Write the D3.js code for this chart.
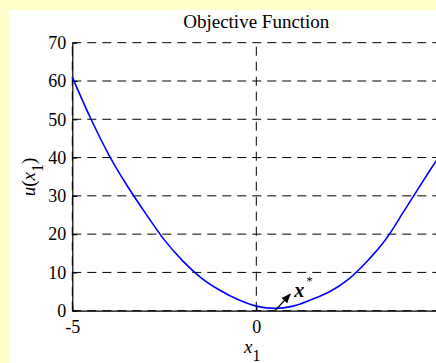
<!DOCTYPE html>
<html>
<head>
<meta charset="utf-8">
<script src="https://cdn.jsdelivr.net/npm/d3@7"></script>
<style>
  html, body { margin: 0; padding: 0; background: #FFFFCC; }
  svg { display: block; }
  text { font-family: "Liberation Serif", "Times New Roman", serif; fill: #000; }
</style>
</head>
<body>
<svg id="chart" width="436" height="363"></svg>
<script>
// Sampled objective u(x1)
const xValues = [-5, -4.5, -4, -3.5, -3, -2.5, -2, -1.5, -1, -0.5, 0, 0.5, 1, 1.5, 2, 2.5, 3, 3.5, 4, 4.5, 5];
const uValues = [61, 50.2, 40.6, 32.5, 25.3, 18.5, 13.0, 8.6, 5.4, 2.9, 1.2, 0.6, 1.2, 2.9, 5.0, 8.2, 12.8, 18.4, 25.8, 33.4, 40.8];

const yTicks = [0, 10, 20, 30, 40, 50, 60, 70];
const xTicks = [-5, 0, 5];

// Minimiser marker: arrow tail and head in data units
const arrowFrom = [0.51, 0];
const arrowTo = [0.92, 4.3];

const W = 436, H = 363;
const svg = d3.select("#chart");

svg.append("rect").attr("width", W).attr("height", H).attr("fill", "#FFFFCC");
svg.append("rect").attr("x", 9).attr("y", 10).attr("width", W - 9).attr("height", H - 10).attr("fill", "#fff");

const x = d3.scaleLinear().domain([-5, 5]).range([72.3, 440.3]);
const y = d3.scaleLinear().domain([0, 70]).range([310.7, 42.7]);

const plot = svg.append("g");

// dashed grid
plot.append("g").selectAll("line").data(yTicks).join("line")
  .attr("x1", x(-5)).attr("x2", x(5))
  .attr("y1", d => y(d)).attr("y2", d => y(d))
  .attr("stroke", "#000").attr("stroke-width", 1)
  .attr("stroke-dasharray", "9,6");
plot.append("g").selectAll("line").data(xTicks).join("line")
  .attr("x1", d => x(d)).attr("x2", d => x(d))
  .attr("y1", y(0)).attr("y2", y(70))
  .attr("stroke", "#000").attr("stroke-width", 1)
  .attr("stroke-dasharray", "9,6");

// axes with inward ticks
const yAxis = d3.axisLeft(y).tickValues(yTicks).tickSizeInner(-5).tickSizeOuter(0).tickPadding(6);
const xAxis = d3.axisBottom(x).tickValues(xTicks).tickSizeInner(-5).tickSizeOuter(0).tickPadding(10)
  .tickFormat(d => d < 0 ? "-" + Math.abs(d) : String(d));

const gy = svg.append("g").attr("transform", `translate(${x(-5)},0)`).call(yAxis);
const gx = svg.append("g").attr("transform", `translate(0,${y(0)})`).call(xAxis);
[gy, gx].forEach(g => {
  g.selectAll("path, line").attr("stroke", "#000").attr("stroke-width", 1.2);
  g.selectAll("text").style("font-family", '"Liberation Serif", serif').style("font-size", "18px").attr("fill", "#000");
});
// labels of ticks that fall past the right edge are not drawn
gx.selectAll(".tick").filter(d => x(d) > W - 4).select("text").remove();

// curve
const line = d3.line().x((d, i) => x(xValues[i])).y(d => y(d)).curve(d3.curveCatmullRom);
svg.append("path").datum(uValues)
  .attr("d", line)
  .attr("fill", "none").attr("stroke", "#0000FF").attr("stroke-width", 1.6);

// arrow marker
svg.append("defs").append("marker")
  .attr("id", "head").attr("viewBox", "0 0 10 10").attr("refX", 9).attr("refY", 5)
  .attr("markerWidth", 8).attr("markerHeight", 8).attr("orient", "auto")
  .append("path").attr("d", "M0,1 L10,5 L0,9 Z").attr("fill", "#000");
svg.append("line")
  .attr("x1", x(arrowFrom[0])).attr("y1", y(arrowFrom[1]))
  .attr("x2", x(arrowTo[0])).attr("y2", y(arrowTo[1]))
  .attr("stroke", "#000").attr("stroke-width", 1.2).attr("marker-end", "url(#head)");

const xs = svg.append("text")
  .attr("x", x(arrowTo[0]) + 4).attr("y", y(arrowTo[1]) + 3)
  .style("font-size", "20px").style("font-weight", "bold").style("font-style", "italic");
xs.append("tspan").text("x");
xs.append("tspan").attr("dx", 2).attr("dy", -12).style("font-size", "13px").style("font-weight", "normal").style("font-style", "normal").text("*");

// title
svg.append("text").attr("x", x(0)).attr("y", 28).attr("text-anchor", "middle")
  .style("font-size", "19px").text("Objective Function");

// x label
const xl = svg.append("text").attr("x", x(0) - 4).attr("y", 353).attr("text-anchor", "middle")
  .style("font-size", "19px");
xl.append("tspan").style("font-style", "italic").text("x");
xl.append("tspan").attr("dy", 8).style("font-size", "16px").text("1");

// y label
const yl = svg.append("text").attr("transform", "translate(35,177) rotate(-90)").attr("text-anchor", "middle")
  .style("font-size", "19px");
yl.append("tspan").style("font-style", "italic").text("u");
yl.append("tspan").text("(");
yl.append("tspan").style("font-style", "italic").text("x");
yl.append("tspan").attr("dy", 8).style("font-size", "16px").text("1");
yl.append("tspan").attr("dy", -8).text(")");
</script>
</body>
</html>
